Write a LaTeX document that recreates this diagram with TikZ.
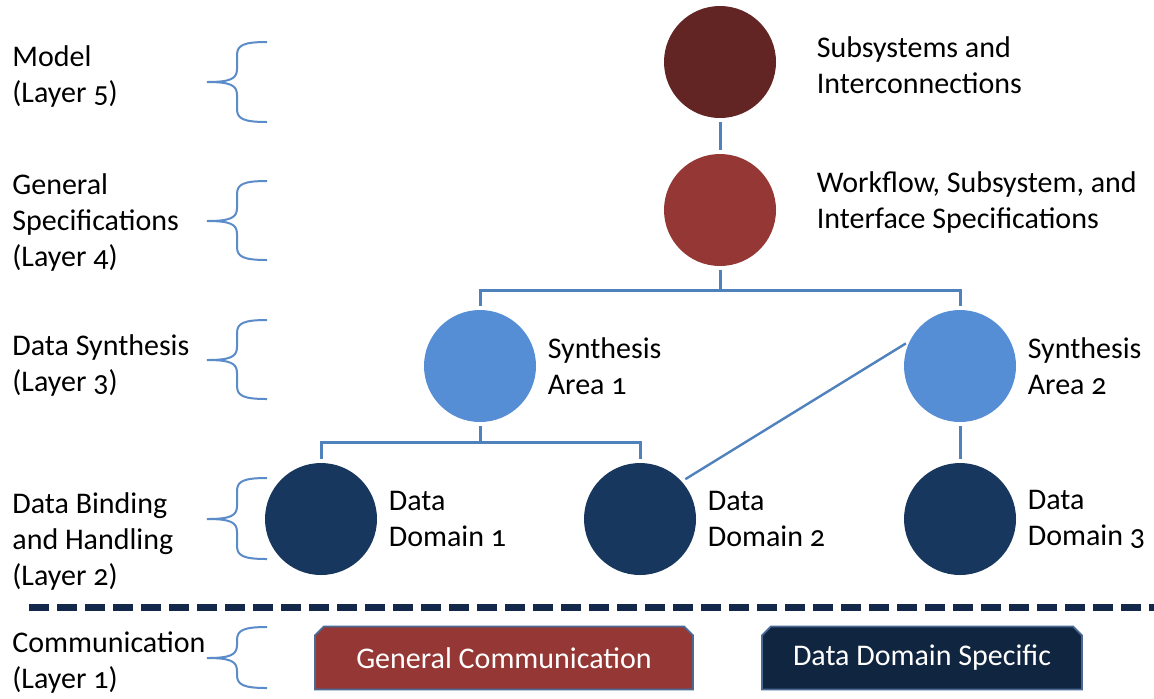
\documentclass[tikz,border=0pt]{standalone}
\usepackage{fontspec}
\setmainfont{Carlito}[Numbers=OldStyle]
\usetikzlibrary{positioning,shapes.misc}
\definecolor{modelred}{HTML}{632523}
\definecolor{specred}{HTML}{953735}
\definecolor{synthblue}{HTML}{558ED5}
\definecolor{domainblue}{HTML}{17375E}
\definecolor{domainnavy}{HTML}{10253F}
\definecolor{linkblue}{HTML}{4F81BD}
\definecolor{braceblue}{HTML}{5B8BC9}
\definecolor{sepnavy}{HTML}{14284B}
\definecolor{boxedge}{HTML}{4A6A95}
\begin{document}
\begin{tikzpicture}[x=0.5pt, y=-0.5pt, font=\fontsize{15}{18}\selectfont,
  layer node/.style={circle, minimum size=56pt, inner sep=0pt},
  label text/.style={align=left, inner sep=0pt},
  link/.style={draw=linkblue, line width=1.5pt, shorten <=2pt, shorten >=2pt},
  bracket/.style={draw=braceblue, line width=1pt},
  sepline/.style={draw=sepnavy, line width=3.5pt, dash pattern=on 10pt off 4pt},
  comm box/.style={chamfered rectangle, chamfered rectangle corners={north west,north east},
    chamfered rectangle xsep=2.2pt, chamfered rectangle ysep=2.2pt, minimum width=189pt,
    minimum height=31.5pt, draw=boxedge, line width=0.9pt, text=white}]
\useasboundingbox (0,0) rectangle (1154,698);
% layer circles
\node[layer node, fill=modelred] (model) at (720,62) {};
\node[layer node, fill=specred] (spec) at (720,210) {};
\node[layer node, fill=synthblue] (synth1) at (480,366) {};
\node[layer node, fill=synthblue] (synth2) at (960,366) {};
\node[layer node, fill=domainblue] (dom1) at (321,519) {};
\node[layer node, fill=domainblue] (dom2) at (640,519) {};
\node[layer node, fill=domainblue] (dom3) at (960,519) {};
% circle labels
\node[label text, right=20pt of model, yshift=-1.75pt] (modeltxt) {Subsystems and\\Interconnections};
\node[label text, right=20pt of spec, yshift=3.75pt] (spectxt) {Workflow, Subsystem, and\\Interface Specifications};
\node[label text, right=5.5pt of synth1] (synth1txt) {Synthesis\\Area 1};
\node[label text, right=5.5pt of synth2] (synth2txt) {Synthesis\\Area 2};
\node[label text, right=5.5pt of dom1] (dom1txt) {Data\\Domain 1};
\node[label text, right=5.5pt of dom2] (dom2txt) {Data\\Domain 2};
\node[label text, right=5.5pt of dom3] (dom3txt) {Data\\Domain 3};
% layer names
\node[label text, anchor=west] (layer5) at (12,76) {Model\\(Layer 5)};
\node[label text, anchor=west] (layer4) at (12,222) {General\\Specifications\\(Layer 4)};
\node[label text, anchor=west] (layer3) at (12,365) {Data Synthesis\\(Layer 3)};
\node[label text, anchor=west] (layer2) at (12,541) {Data Binding\\and Handling\\(Layer 2)};
\node[label text, anchor=west] (layer1) at (12,663) {Communication\\(Layer 1)};
% connectors
\coordinate (bus3) at (720,290);
\coordinate (bus2) at (480,442);
\draw[link] (model) -- (spec);
\draw[link, shorten <=0pt] (bus3) -- (spec.south);
\draw[link] (synth1.north) |- (bus3) -| (synth2.north);
\draw[link, shorten <=0pt] (bus2) -- (synth1.south);
\draw[link] (dom1.north) |- (bus2) -| (dom2.north);
\draw[link] (synth2) -- (dom3);
\draw[link, line width=1.2pt] (dom2.42) -- (synth2.154);
% braces
\foreach \t/\m/\b in {42/82/122, 181/221/260, 320/360/399, 478/519/559, 627/658/688}
  \draw[bracket] (267,\t) .. controls (244,\t) and (237,\t+3) .. (237,\t+13)
    -- (237,\m-13) .. controls (237,\m-3) and (230,\m) .. (207,\m)
    .. controls (230,\m) and (237,\m+3) .. (237,\m+13)
    -- (237,\b-13) .. controls (237,\b-3) and (244,\b) .. (267,\b);
% separator and layer 1 boxes
\coordinate (sepL) at (29,607);
\coordinate (sepR) at (1154,607);
\draw[sepline] (sepL) -- (sepR);
\node[comm box, fill=specred] (general) at (504,658) {General Communication};
\node[comm box, fill=domainnavy, minimum width=160pt] (specific) at (922,658) {Data Domain Specific};
\end{tikzpicture}
\end{document}
